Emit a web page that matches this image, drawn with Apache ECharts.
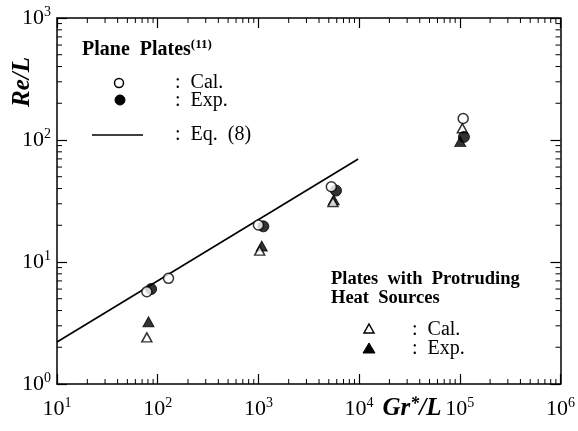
<!DOCTYPE html>
<html>
<head>
<meta charset="utf-8">
<script src="https://cdn.jsdelivr.net/npm/echarts@6/dist/echarts.min.js"></script>
<style>
  html, body { margin: 0; padding: 0; background: #fff; }
  #chart { width: 578px; height: 431px; }
</style>
</head>
<body>
<div id="chart"></div>
<script>
// Axis ranges (decades)
const xRange = [10, 1e6];
const yRange = [1, 1e3];

// Plane plates: calculated (open circles) and experimental (filled circles)
const planeCal = [[78, 5.7], [128, 7.35], [1000, 20.1], [5300, 41.4], [108000, 150]];
const planeExp = [[86, 6.0], [1120, 19.6], [5900, 38.5], [110000, 106]];

// Eq. (8)
const eq8Line = [[10, 2.21], [9800, 69.8]];

// Plates with protruding heat sources: calculated (open) and experimental (filled triangles)
const protrudingCal = [[78, 2.41], [1030, 12.4], [5500, 31.0], [106000, 125]];
const protrudingExp = [[81, 3.24], [1080, 13.5], [5600, 32.3], [101000, 97]];

const FONT = '"Liberation Serif", "Times New Roman", serif';

// minor tick values 2..9 in each decade of a range
function minorValues(range) {
  const out = [];
  for (let d = range[0]; d < range[1]; d *= 10) {
    for (let k = 2; k <= 9; k++) out.push(d * k);
  }
  return out;
}
const xMinor = minorValues(xRange);
const yMinor = minorValues(yRange);

const chart = echarts.init(document.getElementById('chart'), null, { renderer: 'canvas' });

function powerLabel(size, supSize) {
  return {
    formatter: v => '{b|10}{s|' + Math.round(Math.log10(v)) + '}',
    rich: {
      b: { fontFamily: FONT, fontSize: size, color: '#000', lineHeight: size + 4 },
      s: { fontFamily: FONT, fontSize: supSize, color: '#000', verticalAlign: 'top', lineHeight: supSize + 1 }
    }
  };
}

const axisBase = {
  type: 'log',
  logBase: 10,
  axisLine: { show: true, lineStyle: { color: '#000', width: 1.5 } },
  axisTick: { show: true, inside: true, length: 10, lineStyle: { color: '#000', width: 1.2 } },
  splitLine: { show: false },
  minorTick: { show: false }
};

const MINOR_LEN = 5;

// Minor tick marks on all four sides, placed through the axes' own scales
function renderMinorTicks(params, api) {
  const cs = params.coordSys;
  const left = cs.x, top = cs.y, right = cs.x + cs.width, bottom = cs.y + cs.height;
  const children = [];
  const style = { stroke: '#000', lineWidth: 1 };
  xMinor.forEach(v => {
    const px = api.coord([v, yRange[0]])[0];
    children.push({ type: 'line', shape: { x1: px, y1: bottom, x2: px, y2: bottom - MINOR_LEN }, style });
    children.push({ type: 'line', shape: { x1: px, y1: top, x2: px, y2: top + MINOR_LEN }, style });
  });
  yMinor.forEach(v => {
    const py = api.coord([xRange[0], v])[1];
    children.push({ type: 'line', shape: { x1: left, y1: py, x2: left + MINOR_LEN, y2: py }, style });
    children.push({ type: 'line', shape: { x1: right, y1: py, x2: right - MINOR_LEN, y2: py }, style });
  });
  return { type: 'group', children };
}

const option = {
  backgroundColor: '#fff',
  animation: false,
  grid: { left: 57, top: 18, right: 14, bottom: 47, containLabel: false },
  xAxis: [
    Object.assign({}, axisBase, {
      min: xRange[0], max: xRange[1], position: 'bottom',
      axisLabel: Object.assign({ margin: 12 }, powerLabel(22, 14))
    }),
    Object.assign({}, axisBase, {
      min: xRange[0], max: xRange[1], position: 'top',
      axisLabel: { show: false }
    })
  ],
  yAxis: [
    Object.assign({}, axisBase, {
      min: yRange[0], max: yRange[1], position: 'left',
      axisLabel: Object.assign({ margin: 6 }, powerLabel(22, 14))
    }),
    Object.assign({}, axisBase, {
      min: yRange[0], max: yRange[1], position: 'right',
      axisLabel: { show: false }
    })
  ],
  series: [
    {
      type: 'custom', xAxisIndex: 0, yAxisIndex: 0, silent: true,
      data: [[xRange[0], yRange[0]]],
      renderItem: renderMinorTicks, z: 1
    },
    {
      name: 'Eq. (8)', type: 'line', data: eq8Line, showSymbol: false, symbol: 'none',
      lineStyle: { color: '#000', width: 1.6 }, z: 2
    },
    {
      name: 'Protruding Exp.', type: 'scatter', data: protrudingExp, symbol: 'triangle', symbolSize: [11, 10],
      itemStyle: { color: '#000', borderColor: '#000', borderWidth: 1 }, z: 3
    },
    {
      name: 'Protruding Cal.', type: 'scatter', data: protrudingCal, symbol: 'triangle', symbolSize: [10, 9],
      itemStyle: { color: '#fff', borderColor: '#000', borderWidth: 1.5 }, z: 4
    },
    {
      name: 'Plane Exp.', type: 'scatter', data: planeExp, symbol: 'circle', symbolSize: 11,
      itemStyle: { color: '#000', borderColor: '#000', borderWidth: 1 }, z: 5
    },
    {
      name: 'Plane Cal.', type: 'scatter', data: planeCal, symbol: 'circle', symbolSize: 10,
      itemStyle: { color: '#fff', borderColor: '#000', borderWidth: 1.5 }, z: 6
    }
  ],
  graphic: [
    // axis titles
    {
      type: 'text', x: 23, y: 82, rotation: Math.PI / 2,
      style: {
        text: 'Re/L', font: 'italic bold 25px ' + FONT, fill: '#000',
        align: 'center', verticalAlign: 'middle'
      }
    },
    {
      type: 'text', x: 412, y: 409,
      style: {
        text: '{m|Gr}{s|*}{m|/L}', fill: '#000', align: 'center', verticalAlign: 'middle',
        rich: {
          m: { font: 'italic bold 25px ' + FONT, lineHeight: 27 },
          s: { font: 'italic bold 18px ' + FONT, verticalAlign: 'top', lineHeight: 14 }
        }
      }
    },
    // legend: plane plates
    {
      type: 'text', x: 82, y: 50,
      style: {
        text: '{t|Plane  Plates}{s|(11)}', fill: '#000', verticalAlign: 'middle',
        rich: {
          t: { font: 'bold 20px ' + FONT, lineHeight: 23 },
          s: { font: 'bold 13px ' + FONT, verticalAlign: 'top', lineHeight: 12 }
        }
      }
    },
    { type: 'circle', shape: { cx: 119, cy: 83, r: 4.5 }, style: { fill: '#fff', stroke: '#000', lineWidth: 1.5 } },
    { type: 'circle', shape: { cx: 120, cy: 100, r: 5 }, style: { fill: '#000', stroke: '#000', lineWidth: 1 } },
    { type: 'line', shape: { x1: 92, y1: 135, x2: 143, y2: 135 }, style: { stroke: '#000', lineWidth: 1.5 } },
    { type: 'text', x: 175, y: 83, style: { text: ':  Cal.', font: '20px ' + FONT, fill: '#000', verticalAlign: 'middle' } },
    { type: 'text', x: 175, y: 101, style: { text: ':  Exp.', font: '20px ' + FONT, fill: '#000', verticalAlign: 'middle' } },
    { type: 'text', x: 175, y: 135, style: { text: ':  Eq.  (8)', font: '20px ' + FONT, fill: '#000', verticalAlign: 'middle' } },
    // legend: protruding heat sources
    { type: 'text', x: 331, y: 279, style: { text: 'Plates  with  Protruding', font: 'bold 18.5px ' + FONT, fill: '#000', verticalAlign: 'middle' } },
    { type: 'text', x: 331, y: 298, style: { text: 'Heat  Sources', font: 'bold 18.5px ' + FONT, fill: '#000', verticalAlign: 'middle' } },
    { type: 'polygon', shape: { points: [[369, 324], [374, 333], [364, 333]] }, style: { fill: '#fff', stroke: '#000', lineWidth: 1.5 } },
    { type: 'polygon', shape: { points: [[369, 343], [375, 353], [363, 353]] }, style: { fill: '#000', stroke: '#000', lineWidth: 1 } },
    { type: 'text', x: 412, y: 330, style: { text: ':  Cal.', font: '20px ' + FONT, fill: '#000', verticalAlign: 'middle' } },
    { type: 'text', x: 412, y: 349, style: { text: ':  Exp.', font: '20px ' + FONT, fill: '#000', verticalAlign: 'middle' } }
  ]
};

chart.setOption(option);
</script>
</body>
</html>
